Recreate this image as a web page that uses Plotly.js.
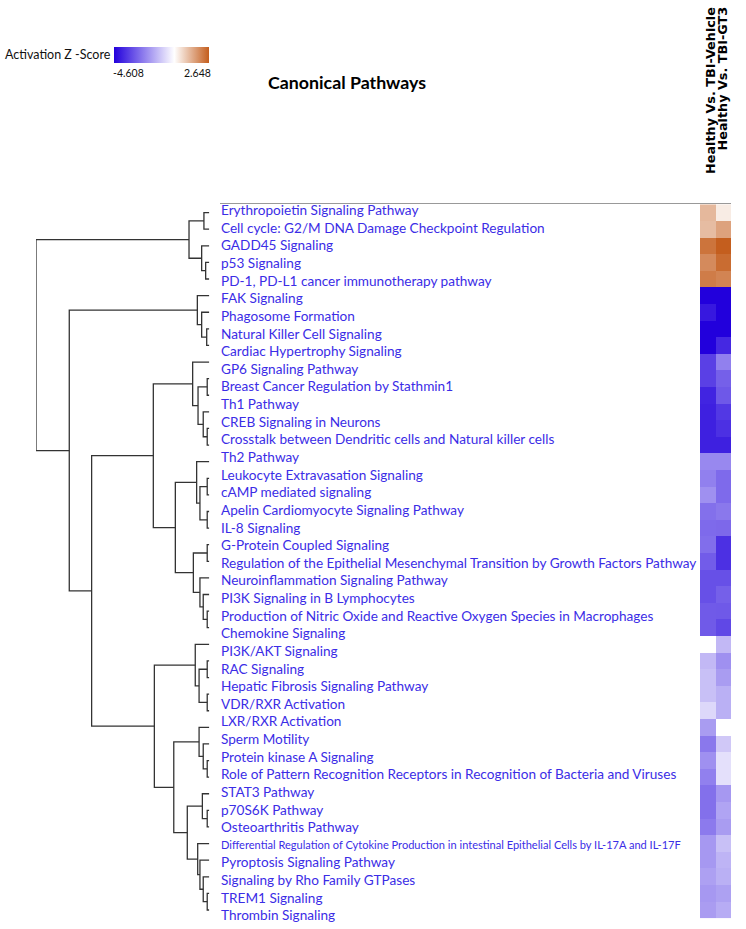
<!DOCTYPE html>
<html><head><meta charset="utf-8">
<script src="https://cdn.plot.ly/plotly-3.0.1.min.js"></script>
<style>html,body{margin:0;padding:0;background:#fff}</style>
</head><body><div id="chart" style="width:746px;height:929px"></div>
<script>
// ---- data ----
const pathways = [
  'Erythropoietin Signaling Pathway',
  'Cell cycle: G2/M DNA Damage Checkpoint Regulation',
  'GADD45 Signaling',
  'p53 Signaling',
  'PD-1, PD-L1 cancer immunotherapy pathway',
  'FAK Signaling',
  'Phagosome Formation',
  'Natural Killer Cell Signaling',
  'Cardiac Hypertrophy Signaling',
  'GP6 Signaling Pathway',
  'Breast Cancer Regulation by Stathmin1',
  'Th1 Pathway',
  'CREB Signaling in Neurons',
  'Crosstalk between Dendritic cells and Natural killer cells',
  'Th2 Pathway',
  'Leukocyte Extravasation Signaling',
  'cAMP mediated signaling',
  'Apelin Cardiomyocyte Signaling Pathway',
  'IL-8 Signaling',
  'G-Protein Coupled Signaling',
  'Regulation of the Epithelial Mesenchymal Transition by Growth Factors Pathway',
  'Neuroinflammation Signaling Pathway',
  'PI3K Signaling in B Lymphocytes',
  'Production of Nitric Oxide and Reactive Oxygen Species in Macrophages',
  'Chemokine Signaling',
  'PI3K/AKT Signaling',
  'RAC Signaling',
  'Hepatic Fibrosis Signaling Pathway',
  'VDR/RXR Activation',
  'LXR/RXR Activation',
  'Sperm Motility',
  'Protein kinase A Signaling',
  'Role of Pattern Recognition Receptors in Recognition of Bacteria and Viruses',
  'STAT3 Pathway',
  'p70S6K Pathway',
  'Osteoarthritis Pathway',
  'Differential Regulation of Cytokine Production in intestinal Epithelial Cells by IL-17A and IL-17F',
  'Pyroptosis Signaling Pathway',
  'Signaling by Rho Family GTPases',
  'TREM1 Signaling',
  'Thrombin Signaling'
];
const comparisons = ['Healthy Vs. TBI-Vehicle', 'Healthy Vs. TBI-GT3'];
// activation z-scores, one per heatmap row (top to bottom)
const zVehicle = [
  1.17, 1.10, 2.29, 1.92, 2.15,
  -4.608, -4.17, -4.608, -4.608,
  -3.45, -3.45, -3.96, -4.03, -4.03, -4.03,
  -2.15, -2.30, -2.00, -2.58, -2.69,
  -2.62, -2.94, -3.16, -3.16, -2.98, -2.98,
  null, -1.28, -1.14, -1.14, -0.70,
  -1.79, -2.44, -2.00, -2.30,
  -2.58, -2.58, -2.40, -1.86, -1.86, -1.71, -1.86, -1.78
];
const zGT3 = [
  0.32, 1.53, 2.648, 2.42, 2.02,
  -4.608, -4.608, -4.608, -3.88,
  -2.30, -2.87, -3.02, -3.60, -3.74, -4.03,
  -2.15, -2.69, -2.69, -2.44, -2.72,
  -3.74, -3.74, -3.16, -2.87, -3.00, -3.31,
  -1.28, -2.00, -1.79, -1.43, -1.43,
  null, -0.99, -0.56, -0.56,
  -1.86, -1.64, -1.79, -1.14, -1.35, -1.43, -1.70, -1.50
];
const zMin = -4.608, zMax = 2.648;
// hierarchical clustering: [childA, childB, height]; index >= 43 refers to merge (index-43)
const linkage = [
  [0, 1, 0.31], [3, 4, 0.21], [2, 44, 0.44], [43, 45, 1.17],
  [7, 8, 0.15], [6, 47, 0.44], [5, 48, 0.69],
  [10, 11, 0.12], [13, 14, 0.12], [12, 51, 0.35], [50, 52, 0.65], [9, 53, 0.96],
  [16, 17, 0.12], [18, 19, 0.12], [55, 56, 0.54], [15, 57, 0.73],
  [20, 21, 0.12], [24, 25, 0.12], [23, 60, 0.35], [22, 61, 0.54], [59, 62, 0.92],
  [58, 63, 1.96], [54, 64, 3.23],
  [27, 28, 0.12], [29, 30, 0.12], [66, 67, 0.59], [26, 68, 0.81],
  [33, 34, 0.12], [32, 70, 0.35], [31, 71, 0.59],
  [36, 37, 0.12], [35, 73, 0.40],
  [41, 42, 0.12], [40, 75, 0.35], [39, 76, 0.54], [38, 77, 0.67], [74, 78, 1.27],
  [72, 79, 2.05], [69, 80, 3.17], [65, 81, 6.79], [49, 82, 8.08], [46, 83, 10.0]
];

// ---- build ----
const W = 746, H = 929;
const px = v => v / W, py = v => 1 - v / H;
const nRows = zVehicle.length;
const rowIdx = zVehicle.map((_, i) => i);
const z = rowIdx.map(i => [zVehicle[i], zGT3[i]]);

const nodeY = rowIdx.slice(), nodeH = rowIdx.map(() => 0);
const dx = [], dy = [];
linkage.forEach(([a, b, h]) => {
  const ya = nodeY[a], yb = nodeY[b];
  dx.push(nodeH[a], h, h, nodeH[b], null);
  dy.push(ya, ya, yb, yb, null);
  nodeY.push((ya + yb) / 2); nodeH.push(h);
});
const rootH = linkage[linkage.length - 1][2];

const labelFont = 'Lato, "Open Sans", sans-serif';
const headFont = '"DejaVu Sans", sans-serif';
const heatTop = 204.3, heatBot = 918.3;
const yDom = [py(heatBot), py(heatTop)];
// label positions: first label at 211.8px, pitch 17.63px
const lblPitch = 17.63, lblFirst = 211.8;
const r0 = -(lblFirst - heatTop) / lblPitch;
const r1 = r0 + (heatBot - heatTop) / lblPitch;

const traces = [
  {
    type: 'scatter', mode: 'lines', x: dx, y: dy, xaxis: 'x', yaxis: 'y',
    line: {color: '#333', width: 1.3}, hoverinfo: 'skip', cliponaxis: false
  },
  {
    type: 'heatmap', x: [0, 1], y: rowIdx, z: z, xaxis: 'x2', yaxis: 'y',
    zmin: zMin, zmax: zMax, hoverongaps: false,
    colorscale: [[0, 'rgb(34,0,220)'], [(0 - zMin) / (zMax - zMin), 'rgb(255,255,255)'], [1, 'rgb(196,94,30)']],
    colorbar: {
      orientation: 'h', x: px(114), xanchor: 'left', y: py(63), yanchor: 'bottom',
      len: 95, lenmode: 'pixels', thickness: 16, thicknessmode: 'pixels',
      outlinewidth: 0, showticklabels: false, ticks: '', xpad: 0, ypad: 0
    }
  },
  {
    type: 'scatter', mode: 'text', x: pathways.map(() => 0), y: pathways.map((_, i) => i),
    text: pathways, textposition: 'middle right', xaxis: 'x3', yaxis: 'y3',
    textfont: {family: labelFont, size: pathways.map(p => p.length > 90 ? 11.05 : 13.6), color: '#3b2de6'},
    hoverinfo: 'skip', cliponaxis: false
  }
];

const layout = {
  width: W, height: H, margin: {l: 0, r: 0, t: 0, b: 0},
  paper_bgcolor: '#fff', plot_bgcolor: 'rgba(0,0,0,0)', showlegend: false,
  xaxis: {domain: [px(36), px(209.3)], range: [rootH, 0], visible: false, fixedrange: true},
  yaxis: {domain: yDom, range: [nRows - 0.5, -0.5], visible: false, fixedrange: true},
  xaxis2: {domain: [px(700), px(731)], range: [-0.5, 1.5], visible: false, anchor: 'y'},
  xaxis3: {domain: [px(221), px(700)], range: [0, 1], visible: false, anchor: 'y3'},
  yaxis3: {domain: yDom, range: [r1, r0], visible: false, anchor: 'x3'},
  shapes: [
    {type: 'line', xref: 'paper', yref: 'paper', x0: px(220), x1: px(731), y0: py(203.5), y1: py(203.5),
     line: {color: '#999', width: 1.2}}
  ],
  annotations: [
    {text: 'Activation Z -Score', xref: 'paper', yref: 'paper', x: px(113), y: py(55),
     xanchor: 'right', yanchor: 'middle', showarrow: false, font: {family: labelFont, size: 12.5, color: '#111'}},
    {text: String(zMin), xref: 'paper', yref: 'paper', x: px(111), y: py(73),
     xanchor: 'left', yanchor: 'middle', showarrow: false, font: {family: labelFont, size: 10.5, color: '#111'}},
    {text: String(zMax), xref: 'paper', yref: 'paper', x: px(213), y: py(73),
     xanchor: 'right', yanchor: 'middle', showarrow: false, font: {family: labelFont, size: 10.5, color: '#111'}},
    {text: '<b>Canonical Pathways</b>', xref: 'paper', yref: 'paper', x: px(347), y: py(82),
     xanchor: 'center', yanchor: 'middle', showarrow: false, font: {family: labelFont, size: 17.8, color: '#000'}},
    {text: '<b>' + comparisons[0] + '</b>', xref: 'paper', yref: 'paper', x: px(710.5), y: py(5),
     xanchor: 'center', yanchor: 'top', textangle: -90, showarrow: false, font: {family: headFont, size: 12.8, color: '#000'}},
    {text: '<b>' + comparisons[1] + '</b>', xref: 'paper', yref: 'paper', x: px(721.5), y: py(5),
     xanchor: 'center', yanchor: 'top', textangle: -90, showarrow: false, font: {family: headFont, size: 12.8, color: '#000'}}
  ]
};

Plotly.newPlot('chart', traces, layout, {staticPlot: true, displayModeBar: false});
</script>
</body></html>
